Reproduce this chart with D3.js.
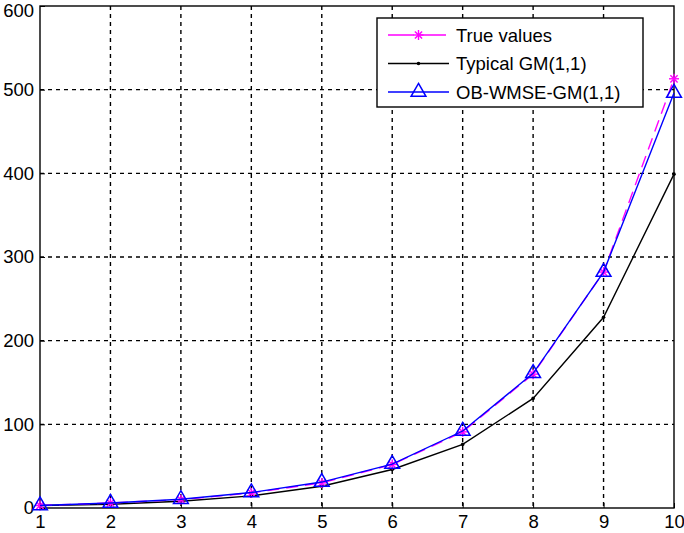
<!DOCTYPE html>
<html>
<head>
<meta charset="utf-8">
<script src="https://cdn.jsdelivr.net/npm/d3@7"></script>
<style>
 body { margin: 0; background: #fff; }
 text { font-family: "Liberation Sans", Arial, sans-serif; }
</style>
</head>
<body>
<div id="chart"></div>
<script>
// data
const xs = [1, 2, 3, 4, 5, 6, 7, 8, 9, 10];
const trueValues = [3, 6, 10, 18, 30, 52, 91, 160, 282, 513];
const typicalGM = [3, 4.5, 8, 14.5, 26, 46, 76, 131, 228, 399];
const obWmseGM = [3, 6, 10.5, 18.5, 31, 52.5, 92, 161, 282, 496];
const xTicks = [1, 2, 3, 4, 5, 6, 7, 8, 9, 10];
const yTicks = [0, 100, 200, 300, 400, 500, 600];

const width = 684, height = 533;
const plotL = 40, plotR = 674, plotT = 6, plotB = 508;

const svg = d3.select("#chart").append("svg")
 .attr("width", width)
 .attr("height", height);

const x = d3.scaleLinear().domain([1, 10]).range([plotL, plotR]);
const y = d3.scaleLinear().domain([0, 600]).range([plotB, plotT]);

// grid
svg.append("g")
 .selectAll("line")
 .data(xTicks.slice(1, -1))
 .enter().append("line")
 .attr("x1", d => x(d)).attr("x2", d => x(d))
 .attr("y1", plotT).attr("y2", plotB)
 .attr("stroke", "#000").attr("stroke-width", 1.4)
 .attr("stroke-dasharray", "4,4");

svg.append("g")
 .selectAll("line")
 .data(yTicks.slice(1, -1))
 .enter().append("line")
 .attr("x1", plotL).attr("x2", plotR)
 .attr("y1", d => y(d)).attr("y2", d => y(d))
 .attr("stroke", "#000").attr("stroke-width", 1.4)
 .attr("stroke-dasharray", "4,4");

// axes (inward ticks like matlab)
const xAxis = svg.append("g")
 .attr("transform", `translate(0,${plotB})`)
 .call(d3.axisBottom(x).tickValues(xTicks).tickSize(-5).tickPadding(7).tickFormat(d3.format("d")));
const yAxis = svg.append("g")
 .attr("transform", `translate(${plotL},0)`)
 .call(d3.axisLeft(y).tickValues(yTicks).tickSize(-5).tickPadding(6).tickFormat(d3.format("d")));
[xAxis, yAxis].forEach(a => {
 a.select(".domain").remove();
 a.selectAll("text").attr("font-size", 18.5).attr("fill", "#000")
  .style("font-family", "'Liberation Sans', Arial, sans-serif");
 a.selectAll("line").attr("stroke", "#000");
});
// keep the top label inside the window
yAxis.selectAll(".tick text").filter(d => d === 600).attr("y", 5);

// box
svg.append("rect")
 .attr("x", plotL).attr("y", plotT)
 .attr("width", plotR - plotL).attr("height", plotB - plotT)
 .attr("fill", "none").attr("stroke", "#000").attr("stroke-width", 1.4);

const line = d3.line().x((d, i) => x(xs[i])).y(d => y(d));

// typical GM(1,1)
svg.append("path").datum(typicalGM)
 .attr("d", line).attr("fill", "none")
 .attr("stroke", "#000").attr("stroke-width", 1.4);
svg.append("g").selectAll("circle")
 .data(typicalGM).enter().append("circle")
 .attr("cx", (d, i) => x(xs[i])).attr("cy", d => y(d))
 .attr("r", 1.8).attr("fill", "#000");

// true values
svg.append("path").datum(trueValues)
 .attr("d", line).attr("fill", "none")
 .attr("stroke", "#ff00ff").attr("stroke-width", 1.4)
 .attr("stroke-dasharray", "12,7");

function star(g, cx, cy, r) {
 const s = g.append("g").attr("stroke", "#ff00ff").attr("stroke-width", 1.4);
 s.append("line").attr("x1", cx - r).attr("x2", cx + r).attr("y1", cy).attr("y2", cy);
 s.append("line").attr("x1", cx).attr("x2", cx).attr("y1", cy - r).attr("y2", cy + r);
 const q = r * 0.72;
 s.append("line").attr("x1", cx - q).attr("x2", cx + q).attr("y1", cy - q).attr("y2", cy + q);
 s.append("line").attr("x1", cx - q).attr("x2", cx + q).attr("y1", cy + q).attr("y2", cy - q);
}
const starG = svg.append("g");
trueValues.forEach((d, i) => star(starG, x(xs[i]), y(d), 5));

// OB-WMSE-GM(1,1)
svg.append("path").datum(obWmseGM)
 .attr("d", line).attr("fill", "none")
 .attr("stroke", "#0000ff").attr("stroke-width", 1.4);
const tri = d3.symbol().type(d3.symbolTriangle).size(95);
svg.append("g").selectAll("path")
 .data(obWmseGM).enter().append("path")
 .attr("d", tri)
 .attr("transform", (d, i) => `translate(${x(xs[i])},${y(d)})`)
 .attr("fill", "none").attr("stroke", "#0000ff").attr("stroke-width", 1.5);

// legend
const lg = svg.append("g");
lg.append("rect")
 .attr("x", 377).attr("y", 18).attr("width", 266).attr("height", 89)
 .attr("fill", "#fff").attr("stroke", "#000").attr("stroke-width", 1.4);
const entries = [
 { label: "True values", color: "#ff00ff", dash: "10,6", mark: "star" },
 { label: "Typical GM(1,1)", color: "#000", dash: null, mark: "dot" },
 { label: "OB-WMSE-GM(1,1)", color: "#0000ff", dash: null, mark: "tri" }
];
entries.forEach((e, i) => {
 const yy = 35 + i * 28.5;
 lg.append("line")
  .attr("x1", 388).attr("x2", 449).attr("y1", yy).attr("y2", yy)
  .attr("stroke", e.color).attr("stroke-width", 1.4)
  .attr("stroke-dasharray", e.dash ? "26,6" : null);
 if (e.mark === "star") star(lg, 418.5, yy, 5);
 if (e.mark === "dot") lg.append("circle").attr("cx", 418.5).attr("cy", yy).attr("r", 1.8).attr("fill", "#000");
 if (e.mark === "tri") lg.append("path").attr("d", tri)
  .attr("transform", `translate(418.5,${yy})`)
  .attr("fill", "none").attr("stroke", e.color).attr("stroke-width", 1.5);
 lg.append("text")
  .attr("x", 456).attr("y", yy + 6.5)
  .attr("font-size", 18.5).attr("fill", "#000")
  .text(e.label);
});
</script>
</body>
</html>
